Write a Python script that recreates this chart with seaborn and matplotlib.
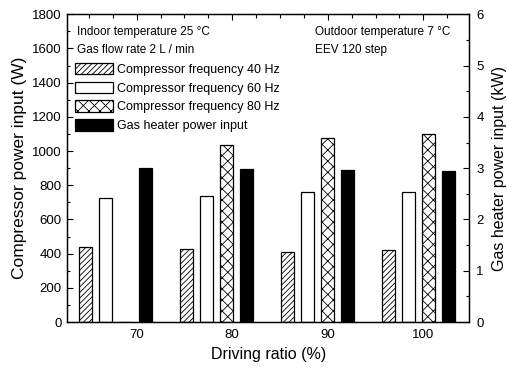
import numpy as np
import pandas as pd
import matplotlib
matplotlib.use("Agg")
import matplotlib.pyplot as plt
from matplotlib.patches import Patch
from matplotlib.ticker import MultipleLocator, FixedLocator
import seaborn as sns

# ---- data ----
ratios = ["70", "80", "90", "100"]
series = ["Compressor frequency 40 Hz", "Compressor frequency 60 Hz",
          "Compressor frequency 80 Hz", "Gas heater power input"]
comp_40hz_w = [437, 425, 408, 421]
comp_60hz_w = [724, 737, 759, 759]
comp_80hz_w = [0, 1037, 1075, 1100]
gas_heater_kw = [3.00, 2.98, 2.96, 2.94]
tick_labels = ["70", "80", "90", "100"]

values = [comp_40hz_w, comp_60hz_w, comp_80hz_w, gas_heater_kw]
df = pd.DataFrame([
    {"ratio": r, "series": s, "value": v}
    for s, vals in zip(series, values) for r, v in zip(ratios, vals)
])

faces = {series[0]: "white", series[1]: "white", series[2]: "white", series[3]: "black"}
hatches = {series[0]: "//////", series[1]: "", series[2]: "xxx", series[3]: ""}

sns.set_style("ticks")
plt.rcParams["font.family"] = ["Liberation Sans", "DejaVu Sans"]
plt.rcParams["hatch.linewidth"] = 0.6
for k in ("text.color", "axes.labelcolor", "xtick.color", "ytick.color", "axes.edgecolor"):
    plt.rcParams[k] = "black"

fig = plt.figure(figsize=(5.07, 3.72), dpi=100)
ax = fig.add_axes([0.1327, 0.1344, 0.7929, 0.8272])
ax2 = ax.twinx()

for s in series:
    target = ax2 if s == series[3] else ax
    n0 = len(target.patches)
    sns.barplot(data=df[df["series"] == s], x="ratio", y="value", hue="series",
                order=ratios, hue_order=series, palette=faces, width=0.79, gap=0.35,
                dodge=True, saturation=1, edgecolor="black", linewidth=0.9,
                legend=False, errorbar=None, ax=target)
    for p in target.patches[n0:]:
        p.set_hatch(hatches[s])

ax.set_xlim(-0.48, 3.50)
ax.set_ylim(0, 1800)
ax2.set_ylim(0, 6)

# x tick labels on a linear % scale (as in the original figure)
lab_pos = [0.207 + (float(t) - 70) * 0.0946 for t in tick_labels]
ax.xaxis.set_major_locator(FixedLocator(lab_pos))
ax.set_xticklabels(tick_labels)
top_minor = [lab_pos[0] + k * 0.2365 for k in range(-2, 15)]
ax.xaxis.set_minor_locator(FixedLocator([t for t in top_minor if -0.48 < t < 3.5]))
ax.tick_params(axis="x", which="both", bottom=False, top=True, direction="in",
               labelbottom=True, labeltop=False, labelsize=9.5, pad=5)
ax.tick_params(axis="x", which="major", length=4, width=0.8)
ax.tick_params(axis="x", which="minor", length=3, width=0.8)

ax.yaxis.set_major_locator(MultipleLocator(200))
ax.yaxis.set_minor_locator(MultipleLocator(100))
ax.tick_params(axis="y", which="both", direction="in", labelsize=9.5, pad=4, width=0.8)
ax.tick_params(axis="y", which="major", length=4)
ax.tick_params(axis="y", which="minor", length=2.5)

ax2.yaxis.set_major_locator(MultipleLocator(1))
ax2.yaxis.set_minor_locator(MultipleLocator(0.5))
ax2.tick_params(axis="y", which="both", direction="in", labelsize=9.5, pad=5, width=0.8)
ax2.tick_params(axis="y", which="major", length=4)
ax2.tick_params(axis="y", which="minor", length=2.5)

ax.set_xlabel("Driving ratio (%)", fontsize=11.5, labelpad=4)
ax.set_ylabel("Compressor power input (W)", fontsize=12.5, labelpad=4)
ax2.set_ylabel("Gas heater power input (kW)", fontsize=11.5, labelpad=6)
ax2.set_xlabel("")

for a in (ax, ax2):
    for sp in a.spines.values():
        sp.set_visible(True)
        sp.set_linewidth(0.9)
        sp.set_color("black")

ax.text(0.024, 0.9415, "Indoor temperature 25 °C", transform=ax.transAxes,
        fontsize=8.5, va="center", ha="left")
ax.text(0.024, 0.885, "Gas flow rate 2 L / min", transform=ax.transAxes,
        fontsize=8.5, va="center", ha="left")
ax.text(0.616, 0.9415, "Outdoor temperature 7 °C", transform=ax.transAxes,
        fontsize=8.5, va="center", ha="left")
ax.text(0.616, 0.885, "EEV 120 step", transform=ax.transAxes,
        fontsize=8.5, va="center", ha="left")

handles = [Patch(facecolor=faces[s], edgecolor="black", hatch=hatches[s], linewidth=0.9)
           for s in series]
leg = ax2.legend(handles, series, loc="upper left", bbox_to_anchor=(0.020, 0.842),
                 frameon=False, fontsize=9, handlelength=3.0, handleheight=1.05,
                 handletextpad=0.3, labelspacing=0.45, borderpad=0, borderaxespad=0)

fig.savefig("out.png", dpi=100)
